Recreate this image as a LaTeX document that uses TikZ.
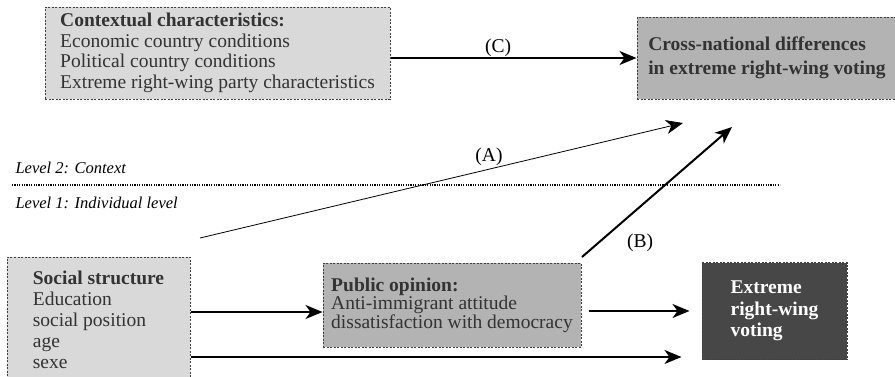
\documentclass[tikz,border=0pt]{standalone}
\usepackage{fontspec}
\setmainfont{Liberation Serif}
\usetikzlibrary{arrows.meta}
\definecolor{lightbox}{HTML}{D9D9D9}
\definecolor{midbox}{HTML}{B3B3B3}
\definecolor{darkbox}{HTML}{474747}
\definecolor{boxtext}{HTML}{333333}
\begin{document}
\begin{tikzpicture}[x=1pt,y=-1pt,
	box/.style={draw=black!75, dash pattern=on 2pt off 1.5pt, line width=1pt, inner sep=0pt, align=left, text=boxtext, font=\fontsize{19.5}{20.5}\selectfont},
	arrowto/.style={-{Stealth[length=17pt,width=14pt,inset=5pt]}, line width=1.3pt},
	pathtag/.style={font=\fontsize{19.5}{22}\selectfont},
	levelname/.style={anchor=west, font=\fontsize{16.5}{18}\selectfont\itshape}]
	\useasboundingbox (0,0) rectangle (895,376);
	\node[box, fill=lightbox, minimum width=345, minimum height=92] (context) at (217.5,53) {\textbf{Contextual characteristics:}\\Economic country conditions\\Political country conditions\\Extreme right-wing party characteristics};
	\node[box, fill=midbox, minimum width=260, minimum height=82, font=\fontsize{19.5}{24}\selectfont\bfseries] (cross) at (767,58) {Cross-national differences\\in extreme right-wing voting};
	\node[box, fill=lightbox, minimum width=183, minimum height=126, font=\fontsize{19.5}{21}\selectfont] (social) at (98.5,320) {\textbf{Social structure}\\Education\\social position\\age\\sexe};
	\node[box, fill=midbox, minimum width=258, minimum height=84, font=\fontsize{19.5}{18.5}\selectfont] (public) at (452,305) {\textbf{Public opinion:}\\Anti-immigrant attitude\\dissatisfaction with democracy};
	\node[box, fill=darkbox, text=white, minimum width=145, minimum height=97, font=\fontsize{19.5}{21.5}\selectfont\bfseries] (extreme) at (774.5,311) {Extreme\\right-wing\\voting};
	\node[levelname] (lvltwo) at (12,168) {Level 2: Context};
	\node[levelname] (lvlone) at (12,203) {Level 1: Individual level};
	\draw[dash pattern=on 1.2pt off 1.2pt, line width=1.5pt] (12,185) -- (780,185);
	\draw[arrowto] (context.east |- cross.west) -- (cross.west);
	\node[pathtag] (tagc) at (498,48) {(C)};
	\coordinate (astart) at (200,238);
	\coordinate (aend) at (683,123);
	\draw[arrowto, line width=0.8pt] (astart) -- (aend);
	\node[pathtag] (taga) at (489,157) {(A)};
	\coordinate (bstart) at (582,257);
	\coordinate (bend) at (732,127);
	\draw[arrowto, line width=2pt] (bstart) -- (bend);
	\node[pathtag] (tagb) at (640,243) {(B)};
	\coordinate (op) at ([yshift=-7pt]public.west);
	\draw[arrowto] (social.east |- op) -- (op);
	\coordinate (pe) at ([xshift=7pt,yshift=-6pt]public.east);
	\coordinate (ew) at ([xshift=-12pt]extreme.west);
	\draw[arrowto] (pe) -- (ew |- pe);
	\coordinate (sv) at ([yshift=-37pt]social.east);
	\coordinate (ev) at ([xshift=-20pt]extreme.west);
	\draw[arrowto] (sv) -- (ev |- sv);
\end{tikzpicture}
\end{document}
